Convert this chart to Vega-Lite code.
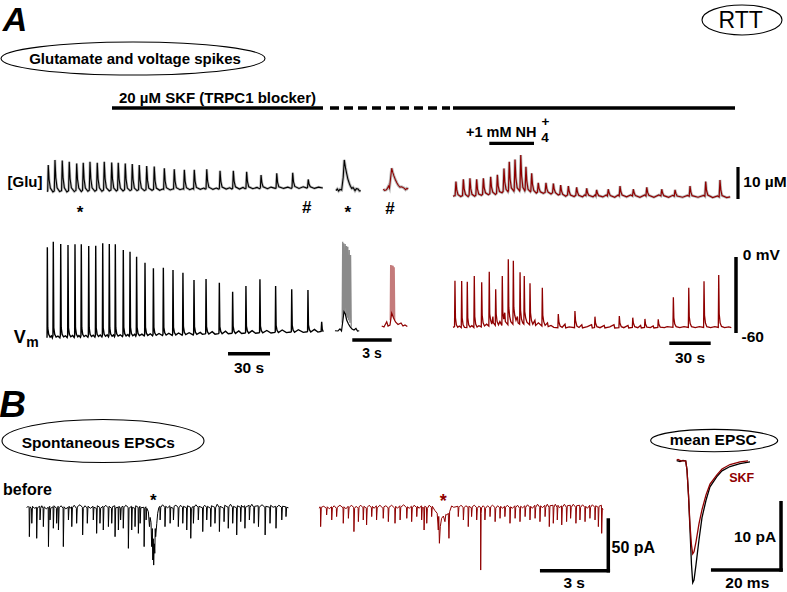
{
"$schema": "https://vega.github.io/schema/vega-lite/v6.json",
"width": 787, "height": 592, "autosize": {"type": "none"}, "padding": 0,
"background": "white",
"config": {"view": {"stroke": null}, "text": {"baseline": "alphabetic", "align": "center", "fontWeight": "bold", "font": "Liberation Sans"}},
"resolve": {"scale": {"x": "independent", "y": "independent"}},
"datasets": {
"gluBlack": [{"t":0,"y":-0.5},{"t":0.5,"y":-0.3},{"t":0.9,"y":7.8},{"t":1.5,"y":3.2},{"t":2.4,"y":0.6},{"t":4.2,"y":-0.6},
{"t":5.2,"y":-0.3},{"t":5.7,"y":9.4},{"t":6.3,"y":3.8},{"t":7.2,"y":0.7},{"t":9,"y":-0.5},
{"t":10.4,"y":-0.2},{"t":10.9,"y":9.2},{"t":11.5,"y":3.7},{"t":12.4,"y":0.7},{"t":14.2,"y":-0.6},
{"t":15.4,"y":-0.2},{"t":15.9,"y":8.8},{"t":16.5,"y":3.5},{"t":17.4,"y":0.7},{"t":19.5,"y":-0.5},
{"t":20.7,"y":-0.1},{"t":21.2,"y":8.3},{"t":21.8,"y":3.3},{"t":22.7,"y":0.6},{"t":24.5,"y":-0.5},
{"t":25.4,"y":-0.1},{"t":25.9,"y":8.5},{"t":26.5,"y":3.4},{"t":27.4,"y":0.6},{"t":29.2,"y":-0.4},
{"t":30.2,"y":-0.1},{"t":30.7,"y":8.8},{"t":31.3,"y":3.5},{"t":32.2,"y":0.7},{"t":34.2,"y":-0.4},
{"t":35.4,"y":0},{"t":35.9,"y":8.5},{"t":36.5,"y":3.4},{"t":37.4,"y":0.7},{"t":39.2,"y":-0.4},
{"t":40.4,"y":0},{"t":40.9,"y":8.8},{"t":41.5,"y":3.5},{"t":42.4,"y":0.7},{"t":44.5,"y":-0.3},
{"t":45.7,"y":0},{"t":46.2,"y":8.6},{"t":46.8,"y":3.4},{"t":47.7,"y":0.6},{"t":49.5,"y":-0.3},
{"t":50.4,"y":0},{"t":50.9,"y":8.5},{"t":51.5,"y":3.4},{"t":52.4,"y":0.6},{"t":54.3,"y":-0.3},
{"t":55.4,"y":0.1},{"t":55.9,"y":8.3},{"t":56.5,"y":3.3},{"t":57.4,"y":0.6},{"t":59.3,"y":-0.2},
{"t":60.4,"y":0.1},{"t":60.9,"y":8.1},{"t":61.5,"y":3.2},{"t":62.4,"y":0.6},{"t":64.3,"y":-0.2},
{"t":65.4,"y":0.1},{"t":65.9,"y":7.8},{"t":66.5,"y":3.1},{"t":67.4,"y":0.6},{"t":69.5,"y":-0.2},
{"t":70.7,"y":0.1},{"t":71.2,"y":7.5},{"t":71.8,"y":3},{"t":72.7,"y":0.6},{"t":75,"y":-0.1},
{"t":76.1,"y":0.2},{"t":76.6,"y":7.3},{"t":77.2,"y":2.9},{"t":78.1,"y":0.6},{"t":80.5,"y":-0.1},{"t":82.5,"y":0.3},
{"t":83.3,"y":0.2},{"t":83.8,"y":6.8},{"t":84.4,"y":2.8},{"t":85.3,"y":0.7},{"t":88,"y":0},{"t":89.8,"y":0.3},
{"t":90.4,"y":0.3},{"t":90.9,"y":6.5},{"t":91.5,"y":2.7},{"t":92.4,"y":0.7},{"t":95,"y":0.1},{"t":97,"y":0.4},
{"t":97.6,"y":0.3},{"t":98.1,"y":6.3},{"t":98.7,"y":2.6},{"t":99.6,"y":0.7},{"t":102,"y":0.1},{"t":104,"y":0.5},
{"t":104.7,"y":0.3},{"t":105.2,"y":6.3},{"t":105.8,"y":2.7},{"t":106.7,"y":0.8},{"t":109.5,"y":0.2},{"t":112,"y":0.6},{"t":113,"y":0.3},
{"t":113.6,"y":0.4},{"t":114.1,"y":6.5},{"t":114.7,"y":2.8},{"t":115.6,"y":0.9},{"t":118.5,"y":0.2},{"t":121,"y":0.6},{"t":122.5,"y":0.3},
{"t":123.1,"y":0.4},{"t":123.6,"y":6},{"t":124.2,"y":2.6},{"t":125.1,"y":0.9},{"t":128,"y":0.3},{"t":130.5,"y":0.7},{"t":132,"y":0.3},
{"t":132.6,"y":0.5},{"t":133.1,"y":6},{"t":133.7,"y":2.7},{"t":134.6,"y":1},{"t":137.5,"y":0.3},{"t":140,"y":0.8},{"t":141.5,"y":0.4},
{"t":142.1,"y":0.5},{"t":142.6,"y":5.7},{"t":143.2,"y":2.6},{"t":144.1,"y":1},{"t":147,"y":0.4},{"t":150,"y":0.8},{"t":151.8,"y":0.4},
{"t":152.4,"y":0.6},{"t":152.9,"y":4.7},{"t":153.5,"y":2.2},{"t":154.4,"y":1},{"t":157.5,"y":0.4},{"t":160,"y":0.9},{"t":163,"y":0.5},
{"t":163.6,"y":0.6},{"t":164.1,"y":5.2},{"t":164.7,"y":2.4},{"t":165.6,"y":1},{"t":169,"y":0.5},{"t":172,"y":0.9},{"t":174.5,"y":0.5},
{"t":175,"y":0.7},{"t":175.5,"y":5.4},{"t":176.1,"y":2.5},{"t":177,"y":1.1},{"t":180,"y":0.5},{"t":183,"y":1},{"t":185.6,"y":0.6},
{"t":186.1,"y":0.8},{"t":186.6,"y":3.3},{"t":187.2,"y":1.8},{"t":188.1,"y":1},{"t":191,"y":0.5},{"t":194,"y":0.9},{"t":197,"y":0.6}],
"vmBlack": [{"t":0,"y":-63.7},{"t":0.05,"y":-62},{"t":0.24,"y":7.7},{"t":0.55,"y":-56},{"t":1.2,"y":-61},{"t":2.2,"y":-63.2},{"t":3.2,"y":-62.3},{"t":3.8,"y":-63.8},
{"t":4.25,"y":-62},{"t":4.5,"y":12.1},{"t":4.85,"y":-56},{"t":5.5,"y":-61},{"t":6.5,"y":-63.2},{"t":7.8,"y":-62.4},{"t":9.2,"y":-63.8},
{"t":9.55,"y":-62},{"t":9.8,"y":10.3},{"t":10.15,"y":-56},{"t":10.8,"y":-61},{"t":11.8,"y":-63},{"t":13.2,"y":-62.2},{"t":14.4,"y":-63.6},
{"t":14.75,"y":-62},{"t":15,"y":9.5},{"t":15.35,"y":-56},{"t":16,"y":-61},{"t":17,"y":-63},{"t":18.3,"y":-62},{"t":19.4,"y":-63.5},
{"t":19.75,"y":-62},{"t":20,"y":10},{"t":20.35,"y":-56},{"t":21,"y":-61},{"t":22,"y":-63},{"t":22.8,"y":-62},{"t":23.9,"y":-63.4},
{"t":24.25,"y":-62},{"t":24.5,"y":10},{"t":24.85,"y":-56},{"t":25.5,"y":-61},{"t":26.5,"y":-62.8},{"t":27.8,"y":-61.8},{"t":29.2,"y":-63.3},
{"t":29.55,"y":-62},{"t":29.8,"y":8.7},{"t":30.15,"y":-56},{"t":30.8,"y":-61},{"t":31.8,"y":-62.8},{"t":33,"y":-61.8},{"t":34.2,"y":-63.2},
{"t":34.55,"y":-62},{"t":34.8,"y":8.9},{"t":35.15,"y":-56},{"t":35.8,"y":-61},{"t":36.8,"y":-62.7},{"t":38,"y":-61.6},{"t":39.2,"y":-63.1},
{"t":39.55,"y":-62},{"t":39.8,"y":10.8},{"t":40.15,"y":-56},{"t":40.8,"y":-60.8},{"t":41.8,"y":-62.6},{"t":43,"y":-61.5},{"t":43.9,"y":-63},
{"t":44.25,"y":-61.8},{"t":44.5,"y":10.3},{"t":44.85,"y":-56},{"t":45.5,"y":-60.8},{"t":46.5,"y":-62.5},{"t":47.5,"y":-61.5},{"t":48.2,"y":-62.9},
{"t":48.55,"y":-61.8},{"t":48.8,"y":10},{"t":49.15,"y":-56},{"t":49.8,"y":-60.6},{"t":50.8,"y":-62.4},{"t":52.3,"y":-61.4},{"t":53.9,"y":-62.8},
{"t":54.25,"y":-61.6},{"t":54.5,"y":5.5},{"t":54.85,"y":-55.5},{"t":55.5,"y":-60.5},{"t":56.5,"y":-62.3},{"t":57.8,"y":-61.2},{"t":58.7,"y":-62.6},
{"t":59.05,"y":-61.5},{"t":59.3,"y":4.2},{"t":59.65,"y":-55.5},{"t":60.3,"y":-60.4},{"t":61.3,"y":-62.2},{"t":62.6,"y":-61},{"t":63.4,"y":-62.5},
{"t":63.75,"y":-61.4},{"t":64,"y":0.2},{"t":64.35,"y":-55.5},{"t":65,"y":-60.3},{"t":66,"y":-62.1},{"t":67.8,"y":-60.9},{"t":69.4,"y":-62.3},
{"t":69.75,"y":-61.2},{"t":70,"y":-4.5},{"t":70.35,"y":-55.5},{"t":71,"y":-60.1},{"t":72,"y":-61.9},{"t":73.8,"y":-60.6},{"t":75.4,"y":-62.2},
{"t":75.75,"y":-61.1},{"t":76,"y":-8.9},{"t":76.35,"y":-55.5},{"t":77,"y":-60},{"t":78,"y":-61.8},{"t":80,"y":-60.4},{"t":82.5,"y":-62},
{"t":82.85,"y":-60.9},{"t":83.1,"y":-8.4},{"t":83.45,"y":-55.5},{"t":84.1,"y":-59.8},{"t":85.1,"y":-61.6},{"t":87,"y":-60.2},{"t":89.4,"y":-61.9},
{"t":89.75,"y":-60.8},{"t":90,"y":-10.3},{"t":90.35,"y":-55.5},{"t":91,"y":-59.7},{"t":92,"y":-61.5},{"t":94,"y":-60},{"t":96.5,"y":-61.7},
{"t":96.85,"y":-60.6},{"t":97.1,"y":-12.4},{"t":97.45,"y":-55},{"t":98.1,"y":-59.5},{"t":99.1,"y":-61.3},{"t":101.5,"y":-59.8},{"t":104.4,"y":-61.5},
{"t":104.75,"y":-60.4},{"t":105,"y":-18.2},{"t":105.35,"y":-55},{"t":106,"y":-59.3},{"t":107,"y":-61},{"t":109.5,"y":-59.5},{"t":111,"y":-61},{"t":113,"y":-60.7},
{"t":113.35,"y":-60.2},{"t":113.6,"y":-17.4},{"t":113.95,"y":-55},{"t":114.6,"y":-59},{"t":115.6,"y":-60.8},{"t":118,"y":-59},{"t":120,"y":-60.9},{"t":122.5,"y":-60.5},
{"t":122.85,"y":-60},{"t":123.1,"y":-20.3},{"t":123.45,"y":-55},{"t":124.1,"y":-58.8},{"t":125.1,"y":-60.6},{"t":127.5,"y":-58.6},{"t":129.5,"y":-60.6},{"t":132,"y":-60.2},
{"t":132.35,"y":-59.7},{"t":132.6,"y":-27.4},{"t":132.95,"y":-54.5},{"t":133.6,"y":-58.6},{"t":134.6,"y":-60.3},{"t":137,"y":-58.4},{"t":139,"y":-60.4},{"t":141.5,"y":-60},
{"t":141.85,"y":-59.5},{"t":142.1,"y":-22.9},{"t":142.45,"y":-54.5},{"t":143.1,"y":-58.4},{"t":144.1,"y":-60.1},{"t":146.5,"y":-58.2},{"t":149,"y":-60.2},{"t":151.5,"y":-59.8},
{"t":151.85,"y":-59.3},{"t":152.1,"y":-17.6},{"t":152.45,"y":-54.5},{"t":153.1,"y":-58.2},{"t":154.1,"y":-59.9},{"t":157,"y":-58},{"t":160,"y":-60},{"t":162.7,"y":-59.5},
{"t":163.05,"y":-59},{"t":163.3,"y":-22.9},{"t":163.65,"y":-54},{"t":164.3,"y":-57.9},{"t":165.3,"y":-59.6},{"t":168,"y":-57.6},{"t":171,"y":-59.7},{"t":174.2,"y":-59.2},
{"t":174.55,"y":-58.8},{"t":174.8,"y":-25.5},{"t":175.15,"y":-54},{"t":175.8,"y":-57.7},{"t":176.8,"y":-59.4},{"t":179.5,"y":-57.4},{"t":183,"y":-59.5},{"t":185.8,"y":-59},
{"t":186.15,"y":-58.5},{"t":186.4,"y":-26.1},{"t":186.75,"y":-53.5},{"t":187.4,"y":-57.4},{"t":188.4,"y":-59.2},{"t":191,"y":-57.2},{"t":193.5,"y":-59.3},{"t":195.8,"y":-58.8},
{"t":196.2,"y":-51.1},{"t":196.6,"y":-57},{"t":197.3,"y":-59}],
"gluRed": [{"t":0,"y":-0.4},{"t":1.5,"y":-0.2},{"t":2.1,"y":4.2},{"t":2.7,"y":1.5},{"t":3.6,"y":0.1},{"t":5.5,"y":-0.5},
{"t":6.8,"y":-0.2},{"t":7.4,"y":4.9},{"t":8,"y":1.8},{"t":8.9,"y":0.2},{"t":10.8,"y":-0.5},
{"t":11.5,"y":-0.1},{"t":12.1,"y":5.2},{"t":12.7,"y":1.9},{"t":13.6,"y":0.2},{"t":15.5,"y":-0.4},
{"t":16.3,"y":-0.1},{"t":16.9,"y":4.9},{"t":17.5,"y":1.8},{"t":18.4,"y":0.3},{"t":20.3,"y":-0.1},
{"t":21.1,"y":0.2},{"t":21.7,"y":5.2},{"t":22.3,"y":2.2},{"t":23.2,"y":0.7},{"t":25.3,"y":0.1},
{"t":26.3,"y":0.4},{"t":26.9,"y":5.7},{"t":27.5,"y":2.5},{"t":28.4,"y":0.9},{"t":30.3,"y":0.2},
{"t":31.1,"y":0.5},{"t":31.7,"y":6.3},{"t":32.3,"y":2.8},{"t":33.2,"y":1.1},{"t":35,"y":0.7},
{"t":35.8,"y":1.1},{"t":36.4,"y":8.3},{"t":37,"y":4},{"t":37.9,"y":1.8},{"t":39.3,"y":1},
{"t":39.6,"y":1.4},{"t":40.2,"y":10.4},{"t":40.8,"y":5},{"t":41.7,"y":2.2},{"t":43.5,"y":1.2},
{"t":43.7,"y":1.5},{"t":44.3,"y":11.1},{"t":44.9,"y":5.4},{"t":45.8,"y":2.3},{"t":47.6,"y":1.3},
{"t":47.8,"y":1.6},{"t":48.4,"y":12.5},{"t":49,"y":6},{"t":49.9,"y":2.4},{"t":51.3,"y":1.3},
{"t":51.5,"y":1.5},{"t":52.1,"y":8.8},{"t":52.7,"y":4.4},{"t":53.6,"y":1.8},{"t":55.3,"y":1},
{"t":55.6,"y":1.2},{"t":56.2,"y":6.8},{"t":56.8,"y":3.3},{"t":57.7,"y":1.4},{"t":59.5,"y":0.6},
{"t":60.3,"y":0.9},{"t":60.9,"y":3.8},{"t":61.5,"y":2},{"t":62.4,"y":1},{"t":64.5,"y":0.5},
{"t":65.8,"y":0.8},{"t":66.4,"y":3.8},{"t":67,"y":2},{"t":67.9,"y":0.9},{"t":70,"y":0.3},
{"t":71.1,"y":0.7},{"t":71.7,"y":3.6},{"t":72.3,"y":1.8},{"t":73.2,"y":0.7},{"t":75.2,"y":0},
{"t":76.3,"y":0.2},{"t":76.9,"y":3.1},{"t":77.5,"y":1.3},{"t":78.4,"y":0.2},{"t":80.5,"y":-0.4},
{"t":81.8,"y":0},{"t":82.4,"y":2.8},{"t":83,"y":1.1},{"t":83.9,"y":0},{"t":86.5,"y":-0.5},
{"t":87.7,"y":-0.1},{"t":88.3,"y":2.4},{"t":88.9,"y":0.9},{"t":89.8,"y":-0.1},{"t":92.5,"y":-0.6},{"t":94,"y":0},
{"t":94.9,"y":-0.2},{"t":95.5,"y":2.1},{"t":96.1,"y":0.7},{"t":97,"y":-0.1},{"t":100,"y":-0.6},{"t":101.5,"y":0},
{"t":102,"y":-0.3},{"t":102.6,"y":1.6},{"t":103.2,"y":0.5},{"t":104.1,"y":-0.2},{"t":107,"y":-0.6},{"t":109.5,"y":0},
{"t":110.3,"y":-0.3},{"t":110.9,"y":1.8},{"t":111.5,"y":0.6},{"t":112.4,"y":-0.2},{"t":115.5,"y":-0.7},{"t":118,"y":0},
{"t":118.7,"y":-0.3},{"t":119.3,"y":2.8},{"t":119.9,"y":1},{"t":120.8,"y":0},{"t":124,"y":-0.6},{"t":127,"y":0},
{"t":128.2,"y":-0.3},{"t":128.8,"y":1.8},{"t":129.4,"y":0.6},{"t":130.3,"y":-0.2},{"t":133.5,"y":-0.7},{"t":137,"y":0},
{"t":137.8,"y":-0.3},{"t":138.4,"y":2.4},{"t":139,"y":0.8},{"t":139.9,"y":-0.1},{"t":143.5,"y":-0.7},{"t":147,"y":0},
{"t":148.5,"y":-0.3},{"t":149.1,"y":1.8},{"t":149.7,"y":0.6},{"t":150.6,"y":-0.2},{"t":154,"y":-0.7},{"t":157,"y":-0.1},
{"t":158,"y":-0.4},{"t":158.6,"y":1.6},{"t":159.2,"y":0.5},{"t":160.1,"y":-0.3},{"t":164,"y":-0.7},{"t":167.5,"y":-0.1},
{"t":168.7,"y":-0.4},{"t":169.3,"y":2.8},{"t":169.9,"y":0.9},{"t":170.8,"y":-0.2},{"t":175,"y":-0.7},{"t":179,"y":-0.1},
{"t":179.9,"y":-0.4},{"t":180.5,"y":4.2},{"t":181.1,"y":1.4},{"t":182,"y":0},{"t":185.5,"y":-0.8},{"t":189,"y":-0.3},
{"t":190.1,"y":-0.6},{"t":190.7,"y":4.7},{"t":191.3,"y":1.5},{"t":192.2,"y":-0.2},{"t":195.5,"y":-0.8},{"t":198,"y":-0.6}],
"vmRed": [{"t":0,"y":-55.5},{"t":1.1,"y":-55},{"t":1.4,"y":-18.7},{"t":1.75,"y":-48},{"t":2.4,"y":-53.5},{"t":3.4,"y":-55.5},{"t":4.5,"y":-54.5},{"t":5.9,"y":-55.8},
{"t":6.2,"y":-19},{"t":6.55,"y":-48},{"t":7.2,"y":-53.5},{"t":8.2,"y":-55.5},{"t":9.9,"y":-55.7},
{"t":10.2,"y":-19.5},{"t":10.55,"y":-48},{"t":11.2,"y":-53.5},{"t":12.2,"y":-55.3},{"t":13.5,"y":-54.2},{"t":14.9,"y":-55.6},
{"t":15.2,"y":-15},{"t":15.55,"y":-47},{"t":16.2,"y":-53},{"t":17.2,"y":-55.3},{"t":18.5,"y":-54.3},{"t":20.2,"y":-55.2},
{"t":20.5,"y":-20},{"t":20.85,"y":-46},{"t":21.5,"y":-52},{"t":22.5,"y":-54.5},{"t":24,"y":-53},{"t":25.6,"y":-54.5},
{"t":25.9,"y":-11.6},{"t":26.25,"y":-45},{"t":26.9,"y":-50},{"t":27.7,"y":-53},{"t":28.5,"y":-47},{"t":28.8,"y":-52},{"t":30.2,"y":-54},
{"t":30.5,"y":-25.5},{"t":30.85,"y":-45},{"t":31.5,"y":-51},{"t":32.5,"y":-53.5},{"t":33.5,"y":-51},{"t":34.9,"y":-54},
{"t":35.2,"y":-15},{"t":35.55,"y":-43},{"t":36.2,"y":-49},{"t":37,"y":-44},{"t":37.4,"y":-51},{"t":39.2,"y":-53.5},
{"t":39.5,"y":-1.8},{"t":39.85,"y":-40},{"t":40.5,"y":-47},{"t":41.3,"y":-51},{"t":42.8,"y":-53},
{"t":43.1,"y":-2.9},{"t":43.45,"y":-40},{"t":44.1,"y":-46},{"t":45,"y":-50},{"t":46,"y":-47},{"t":46.5,"y":-52},{"t":47.6,"y":-53},
{"t":47.9,"y":-12.1},{"t":48.25,"y":-42},{"t":48.9,"y":-49},{"t":49.8,"y":-52},{"t":50.6,"y":-53},
{"t":50.9,"y":-15},{"t":51.25,"y":-43},{"t":51.9,"y":-48},{"t":52.8,"y":-51.5},{"t":54.7,"y":-53.5},
{"t":55,"y":-20.8},{"t":55.35,"y":-44},{"t":56,"y":-50},{"t":57,"y":-53},{"t":58.5,"y":-50},{"t":59,"y":-54},{"t":61,"y":-52},{"t":63.5,"y":-54.5},
{"t":63.8,"y":-24.2},{"t":64.15,"y":-46},{"t":64.8,"y":-51},{"t":65.8,"y":-54},{"t":67.5,"y":-52},{"t":68,"y":-55},{"t":70,"y":-54},{"t":72,"y":-55.5},{"t":74.9,"y":-55.8},
{"t":75.2,"y":-45},{"t":75.6,"y":-51},{"t":76.5,"y":-54.5},{"t":78,"y":-55.5},{"t":80,"y":-53},{"t":80.5,"y":-56},{"t":83,"y":-55.2},{"t":86.8,"y":-55.8},
{"t":87.1,"y":-42.6},{"t":87.5,"y":-50},{"t":88.5,"y":-54.5},{"t":90,"y":-55.6},{"t":92,"y":-53.5},{"t":92.5,"y":-56},{"t":96,"y":-55},{"t":99,"y":-53.5},{"t":99.5,"y":-56},{"t":101.1,"y":-55.7},
{"t":101.4,"y":-47.1},{"t":101.8,"y":-52},{"t":102.8,"y":-55},{"t":105,"y":-55.8},{"t":108,"y":-54},{"t":108.5,"y":-56},{"t":112,"y":-55.2},{"t":115,"y":-53.5},{"t":115.5,"y":-56},{"t":118.5,"y":-55.7},
{"t":118.8,"y":-46.6},{"t":119.2,"y":-52},{"t":120.2,"y":-55},{"t":122,"y":-55.8},{"t":125,"y":-54},{"t":125.5,"y":-56},{"t":128.1,"y":-55.6},
{"t":128.4,"y":-47.9},{"t":128.8,"y":-52},{"t":129.8,"y":-55},{"t":132,"y":-55.8},{"t":134,"y":-54},{"t":134.5,"y":-56},{"t":136.8,"y":-55.6},
{"t":137.1,"y":-48.9},{"t":137.5,"y":-53},{"t":138.5,"y":-55.3},{"t":141,"y":-55.8},{"t":143,"y":-54.5},{"t":143.5,"y":-56},{"t":146.3,"y":-55.6},
{"t":146.6,"y":-49.2},{"t":147,"y":-53},{"t":148,"y":-55.3},{"t":151,"y":-55.8},{"t":153,"y":-55},{"t":157.1,"y":-55.5},
{"t":157.4,"y":-31.8},{"t":157.75,"y":-48},{"t":158.4,"y":-53},{"t":159.4,"y":-55},{"t":162,"y":-55.8},{"t":165,"y":-55},{"t":168.1,"y":-55.6},
{"t":168.4,"y":-24.2},{"t":168.75,"y":-47},{"t":169.4,"y":-52.5},{"t":170.4,"y":-55},{"t":173,"y":-55.8},{"t":176,"y":-55},{"t":179,"y":-55.6},
{"t":179.3,"y":-19.2},{"t":179.65,"y":-46},{"t":180.3,"y":-52},{"t":181.3,"y":-55},{"t":184,"y":-55.8},{"t":187,"y":-55},{"t":189.5,"y":-55.6},
{"t":189.8,"y":-14.2},{"t":190.15,"y":-45},{"t":190.8,"y":-52},{"t":191.8,"y":-54.8},{"t":194,"y":-55.8},{"t":197,"y":-55.2},{"t":198.8,"y":-55.8}],
"gluInsetBlack": [{"t":0,"y":-0.2},{"t":0.1,"y":0.3},{"t":0.2,"y":-0.3},{"t":0.3,"y":0.2},{"t":0.43,"y":0},{"t":0.55,"y":4},{"t":0.63,"y":9.4},{"t":0.72,"y":7},{"t":0.81,"y":5.2},{"t":0.9,"y":3.5},{"t":1.01,"y":2.1},{"t":1.1,"y":1.2},{"t":1.2,"y":0.5},{"t":1.3,"y":0.8},{"t":1.45,"y":-0.2},{"t":1.55,"y":0.4},{"t":1.68,"y":0.3},{"t":1.78,"y":-0.3},{"t":1.88,"y":-0.2}],
"gluInsetRed": [{"t":0,"y":0.3},{"t":0.1,"y":-0.1},{"t":0.21,"y":0},{"t":0.3,"y":0.4},{"t":0.4,"y":1.25},{"t":0.47,"y":0.6},{"t":0.55,"y":3.5},{"t":0.64,"y":6.8},{"t":0.72,"y":5.5},{"t":0.81,"y":4.4},{"t":0.92,"y":3.2},{"t":1.04,"y":2.2},{"t":1.15,"y":1.4},{"t":1.27,"y":0.9},{"t":1.4,"y":1},{"t":1.58,"y":0.6},{"t":1.7,"y":0.1},{"t":1.8,"y":0.5},{"t":1.9,"y":0.3}],
"vmInsetBlack": [{"t":-0.08,"y":-58.2},{"t":0.15,"y":-58.4},{"t":0.3,"y":-56.8},{"t":0.42,"y":-58.4},{"t":0.53,"y":-49.7},{"t":0.61,"y":-43.2},{"t":0.71,"y":-45},{"t":0.81,"y":-49.7},{"t":0.95,"y":-52.9},{"t":1.07,"y":-55},{"t":1.22,"y":-56.8},{"t":1.37,"y":-57.6},{"t":1.52,"y":-56.4},{"t":1.64,"y":-58.4},{"t":1.77,"y":-58.2}],
"vmBurstBlack": [{"t":0.47,"y":-52},{"t":0.51,"y":12.1},{"t":0.55,"y":-46},{"t":0.59,"y":10.8},{"t":0.64,"y":-44},{"t":0.7,"y":10.3},{"t":0.75,"y":-46},{"t":0.8,"y":8.7},{"t":0.85,"y":-48},{"t":0.9,"y":8.1},{"t":0.94,"y":-50},{"t":1.01,"y":5.5},{"t":1.05,"y":-52},{"t":1.11,"y":1.6},{"t":1.16,"y":-55}],
"vmInsetRed": [{"t":-0.12,"y":-54.5},{"t":0.05,"y":-55.3},{"t":0.26,"y":-51.1},{"t":0.36,"y":-54.5},{"t":0.51,"y":-53.7},{"t":0.64,"y":-44.4},{"t":0.78,"y":-48.2},{"t":0.93,"y":-51.3},{"t":1.12,"y":-53.3},{"t":1.35,"y":-52.1},{"t":1.5,"y":-54.5},{"t":1.65,"y":-53.7},{"t":1.83,"y":-54.9}],
"vmBurstRed": [{"t":0.53,"y":-50},{"t":0.56,"y":-6.3},{"t":0.61,"y":-46},{"t":0.65,"y":-6.5},{"t":0.7,"y":-46},{"t":0.75,"y":-7},{"t":0.79,"y":-48},{"t":0.83,"y":-8},{"t":0.87,"y":-50}],
"epscBlack": [{"t":0,"y":0.5},{"t":0.06,"y":2},{"t":0.108,"y":0.5},{"t":0.12,"y":-28},{"t":0.15,"y":1.5},{"t":0.218,"y":-0.5},{"t":0.23,"y":-14.8},{"t":0.26,"y":2},{"t":0.35,"y":0},
{"t":0.438,"y":1},{"t":0.45,"y":-29.6},{"t":0.48,"y":0.5},{"t":0.588,"y":2},{"t":0.6,"y":-11.5},{"t":0.63,"y":0},{"t":0.68,"y":2.5},
{"t":0.738,"y":0},{"t":0.75,"y":-18.1},{"t":0.78,"y":1.5},{"t":0.88,"y":-0.5},{"t":0.968,"y":1},{"t":0.98,"y":-37.8},{"t":1.01,"y":0.5},
{"t":1.038,"y":2},{"t":1.05,"y":-11.5},{"t":1.08,"y":0},{"t":1.188,"y":1.5},{"t":1.2,"y":-19.7},{"t":1.23,"y":2.5},{"t":1.338,"y":0},{"t":1.35,"y":-14.8},{"t":1.38,"y":1},
{"t":1.418,"y":2},{"t":1.43,"y":-21.4},{"t":1.46,"y":0.5},{"t":1.55,"y":2.5},{"t":1.638,"y":0},{"t":1.65,"y":-37.8},{"t":1.68,"y":1.5},{"t":1.76,"y":-0.5},
{"t":1.868,"y":1},{"t":1.88,"y":-11.5},{"t":1.91,"y":2},{"t":1.96,"y":0},{"t":2.018,"y":1.5},{"t":2.03,"y":-18.1},{"t":2.06,"y":0.5},{"t":2.14,"y":3},
{"t":2.238,"y":0},{"t":2.25,"y":-14.8},{"t":2.28,"y":1.5},{"t":2.4,"y":3.5},{"t":2.508,"y":1},{"t":2.52,"y":-26.3},{"t":2.55,"y":0},{"t":2.62,"y":2.5},
{"t":2.718,"y":0.5},{"t":2.73,"y":-14.8},{"t":2.76,"y":2},{"t":2.87,"y":0},{"t":2.988,"y":2},{"t":3,"y":-11.5},{"t":3.03,"y":1},
{"t":3.138,"y":0},{"t":3.15,"y":-24.7},{"t":3.18,"y":2.5},{"t":3.288,"y":1},{"t":3.3,"y":-14.8},{"t":3.33,"y":0},{"t":3.438,"y":2},{"t":3.45,"y":-21.4},{"t":3.48,"y":1},{"t":3.56,"y":3},
{"t":3.668,"y":0.5},{"t":3.68,"y":-18.1},{"t":3.71,"y":2},{"t":3.818,"y":0},{"t":3.83,"y":-14.8},{"t":3.86,"y":1.5},{"t":3.968,"y":2.5},{"t":3.98,"y":-28},{"t":4.01,"y":0.5},
{"t":4.118,"y":1},{"t":4.13,"y":-21.4},{"t":4.16,"y":2},{"t":4.218,"y":0},{"t":4.23,"y":-11.5},{"t":4.26,"y":1},{"t":4.338,"y":2},{"t":4.35,"y":-19.7},{"t":4.38,"y":0.5},{"t":4.46,"y":3},
{"t":4.568,"y":1},{"t":4.58,"y":-39.5},{"t":4.61,"y":0},{"t":4.718,"y":2},{"t":4.73,"y":-21.4},{"t":4.76,"y":1},{"t":4.868,"y":0},{"t":4.88,"y":-18.1},{"t":4.91,"y":2.5},
{"t":5.018,"y":1},{"t":5.03,"y":-24.7},{"t":5.06,"y":0},{"t":5.098,"y":2},{"t":5.11,"y":-14.8},{"t":5.14,"y":0.5},{"t":5.278,"y":1},{"t":5.29,"y":-37.8},{"t":5.32,"y":0},
{"t":5.368,"y":1.5},{"t":5.38,"y":-11.5},{"t":5.41,"y":0},{"t":5.48,"y":-3.3},{"t":5.53,"y":-18.1},{"t":5.56,"y":-9},{"t":5.6,"y":-14},{"t":5.63,"y":-37.8},{"t":5.66,"y":-20},{"t":5.68,"y":-51},{"t":5.7,"y":-30},{"t":5.72,"y":-56},{"t":5.745,"y":-35},{"t":5.77,"y":-44.4},{"t":5.79,"y":-20},{"t":5.81,"y":-28},{"t":5.86,"y":-14.8},{"t":5.9,"y":-4.9},{"t":5.95,"y":0.5},
{"t":5.998,"y":2},{"t":6.01,"y":-11.5},{"t":6.04,"y":1},{"t":6.12,"y":3.5},{"t":6.218,"y":1},{"t":6.23,"y":-18.1},{"t":6.26,"y":2},{"t":6.35,"y":0.5},
{"t":6.448,"y":2.5},{"t":6.46,"y":-14.8},{"t":6.49,"y":1},{"t":6.598,"y":0},{"t":6.61,"y":-11.5},{"t":6.64,"y":2},{"t":6.72,"y":3},
{"t":6.818,"y":1},{"t":6.83,"y":-18.1},{"t":6.86,"y":0.5},{"t":6.93,"y":3},{"t":7.018,"y":1},{"t":7.03,"y":-14.8},{"t":7.06,"y":2},
{"t":7.198,"y":0.5},{"t":7.21,"y":-21.4},{"t":7.24,"y":2.5},{"t":7.378,"y":1},{"t":7.39,"y":-29.6},{"t":7.42,"y":0},{"t":7.498,"y":2},{"t":7.51,"y":-14.8},{"t":7.54,"y":1},{"t":7.62,"y":3.5},
{"t":7.718,"y":1},{"t":7.73,"y":-11.5},{"t":7.76,"y":2},{"t":7.918,"y":0.5},{"t":7.93,"y":-23},{"t":7.96,"y":1.5},{"t":8.02,"y":3},
{"t":8.098,"y":1},{"t":8.11,"y":-11.5},{"t":8.14,"y":2},{"t":8.278,"y":0},{"t":8.29,"y":-18.1},{"t":8.32,"y":2.5},{"t":8.468,"y":1},{"t":8.48,"y":-14.8},{"t":8.51,"y":0.5},{"t":8.58,"y":4},
{"t":8.668,"y":1},{"t":8.68,"y":-23},{"t":8.71,"y":2},{"t":8.878,"y":0},{"t":8.89,"y":-13.2},{"t":8.92,"y":3},{"t":9.068,"y":1},{"t":9.08,"y":-19.7},{"t":9.11,"y":1.5},{"t":9.18,"y":4},
{"t":9.268,"y":1},{"t":9.28,"y":-14.8},{"t":9.31,"y":2},{"t":9.448,"y":0.5},{"t":9.46,"y":-26.3},{"t":9.49,"y":2.5},{"t":9.628,"y":1},{"t":9.64,"y":-13.2},{"t":9.67,"y":3},{"t":9.74,"y":1},
{"t":9.818,"y":2.5},{"t":9.83,"y":-19.7},{"t":9.86,"y":1},{"t":10.018,"y":3},{"t":10.03,"y":-11.5},{"t":10.06,"y":1},{"t":10.14,"y":4},
{"t":10.228,"y":1},{"t":10.24,"y":-14.8},{"t":10.27,"y":2},{"t":10.428,"y":2.5},{"t":10.44,"y":-18.1},{"t":10.47,"y":1},{"t":10.6,"y":3.5},
{"t":10.728,"y":1},{"t":10.74,"y":-26.3},{"t":10.77,"y":2},{"t":10.948,"y":1},{"t":10.96,"y":-14.8},{"t":10.99,"y":3},{"t":11.1,"y":1},
{"t":11.218,"y":2},{"t":11.23,"y":-19.7},{"t":11.26,"y":1},{"t":11.36,"y":3},{"t":11.478,"y":1},{"t":11.49,"y":-11.5},{"t":11.52,"y":2},
{"t":11.668,"y":1.5},{"t":11.68,"y":-8.2},{"t":11.71,"y":1},{"t":11.79,"y":0.5}],
"epscRed": [{"t":0,"y":0},{"t":0.03,"y":1.5},{"t":0.05,"y":0.5},{"t":0.06,"y":-18.1},{"t":0.09,"y":1},{"t":0.2,"y":2},
{"t":0.318,"y":0},{"t":0.33,"y":-6.6},{"t":0.36,"y":1.5},{"t":0.45,"y":-0.5},{"t":0.548,"y":1.5},{"t":0.56,"y":-11.5},{"t":0.59,"y":0.5},{"t":0.67,"y":2.5},
{"t":0.768,"y":0},{"t":0.78,"y":-8.2},{"t":0.81,"y":1},{"t":0.93,"y":3},{"t":1.068,"y":0.5},{"t":1.08,"y":-14.8},{"t":1.11,"y":1.5},{"t":1.2,"y":-0.5},
{"t":1.298,"y":2},{"t":1.31,"y":-9.9},{"t":1.34,"y":0.5},{"t":1.44,"y":3},{"t":1.548,"y":1},{"t":1.56,"y":-23},{"t":1.59,"y":0},{"t":1.66,"y":2},
{"t":1.748,"y":0},{"t":1.76,"y":-13.2},{"t":1.79,"y":1.5},{"t":1.87,"y":3},{"t":1.968,"y":0.5},{"t":1.98,"y":-11.5},{"t":2.01,"y":2},
{"t":2.118,"y":0},{"t":2.13,"y":-16.4},{"t":2.16,"y":1},{"t":2.25,"y":3},{"t":2.348,"y":0.5},{"t":2.36,"y":-8.2},{"t":2.39,"y":2},{"t":2.47,"y":0},
{"t":2.568,"y":2.5},{"t":2.58,"y":-11.5},{"t":2.61,"y":0.5},{"t":2.73,"y":3},{"t":2.868,"y":0},{"t":2.88,"y":-9.9},{"t":2.91,"y":1.5},{"t":3,"y":2.5},
{"t":3.098,"y":0.5},{"t":3.11,"y":-13.2},{"t":3.14,"y":1},{"t":3.26,"y":3},{"t":3.398,"y":0},{"t":3.41,"y":-14.8},{"t":3.44,"y":2},{"t":3.52,"y":0},
{"t":3.628,"y":2.5},{"t":3.64,"y":-11.5},{"t":3.67,"y":1},{"t":3.8,"y":3.5},{"t":3.928,"y":0.5},{"t":3.94,"y":-9.9},{"t":3.97,"y":1.5},{"t":4.05,"y":0},
{"t":4.148,"y":2},{"t":4.16,"y":-13.2},{"t":4.19,"y":0.5},{"t":4.27,"y":3},{"t":4.378,"y":1},{"t":4.39,"y":-8.2},{"t":4.42,"y":2},{"t":4.5,"y":0},
{"t":4.598,"y":2.5},{"t":4.61,"y":-11.5},{"t":4.64,"y":1},{"t":4.708,"y":0.5},{"t":4.72,"y":-21.4},{"t":4.75,"y":2},{"t":4.828,"y":1},{"t":4.84,"y":-14.8},{"t":4.87,"y":0},{"t":4.95,"y":3},
{"t":5.048,"y":1},{"t":5.06,"y":-8.2},{"t":5.09,"y":2},{"t":5.21,"y":-2.3},{"t":5.31,"y":-4.9},{"t":5.36,"y":-21.4},{"t":5.38,"y":-8},{"t":5.41,"y":-34.5},{"t":5.45,"y":-18.1},{"t":5.51,"y":-9.9},{"t":5.59,"y":-7.6},{"t":5.66,"y":-13.2},{"t":5.7,"y":-6},{"t":5.74,"y":-6.6},{"t":5.81,"y":-4.9},{"t":5.84,"y":-29.6},{"t":5.87,"y":-3.3},{"t":5.96,"y":2.3},{"t":6.05,"y":1},
{"t":6.248,"y":2},{"t":6.26,"y":-8.2},{"t":6.29,"y":1},{"t":6.38,"y":3},{"t":6.478,"y":1},{"t":6.49,"y":-11.5},{"t":6.52,"y":0.5},{"t":6.6,"y":2.5},
{"t":6.698,"y":1},{"t":6.71,"y":-18.1},{"t":6.74,"y":2},{"t":6.848,"y":0.5},{"t":6.86,"y":-8.2},{"t":6.89,"y":1.5},{"t":6.98,"y":3},
{"t":7.078,"y":1},{"t":7.09,"y":-11.5},{"t":7.12,"y":0},{"t":7.18,"y":2},{"t":7.262,"y":1},{"t":7.27,"y":-60.9},{"t":7.29,"y":-5},{"t":7.31,"y":0.5},{"t":7.38,"y":2.5},
{"t":7.448,"y":1},{"t":7.46,"y":-11.5},{"t":7.49,"y":0},{"t":7.58,"y":2.5},{"t":7.678,"y":0.5},{"t":7.69,"y":-8.2},{"t":7.72,"y":1.5},{"t":7.8,"y":3},
{"t":7.908,"y":1},{"t":7.92,"y":-13.2},{"t":7.95,"y":0},{"t":8.03,"y":2.5},{"t":8.128,"y":0.5},{"t":8.14,"y":-9.9},{"t":8.17,"y":2},{"t":8.25,"y":0},
{"t":8.348,"y":2},{"t":8.36,"y":-8.2},{"t":8.39,"y":1},{"t":8.47,"y":3},{"t":8.578,"y":0.5},{"t":8.59,"y":-14.8},{"t":8.62,"y":1.5},{"t":8.7,"y":0},
{"t":8.808,"y":2.5},{"t":8.82,"y":-9.9},{"t":8.85,"y":1},{"t":8.93,"y":3},{"t":9.028,"y":0},{"t":9.04,"y":-13.2},{"t":9.07,"y":2},{"t":9.16,"y":0.5},
{"t":9.258,"y":2.5},{"t":9.27,"y":-8.2},{"t":9.3,"y":1},{"t":9.38,"y":3.5},{"t":9.478,"y":1},{"t":9.49,"y":-11.5},{"t":9.52,"y":2},{"t":9.6,"y":0},
{"t":9.708,"y":3},{"t":9.72,"y":-9.9},{"t":9.75,"y":1},{"t":9.83,"y":4},{"t":9.928,"y":1},{"t":9.94,"y":-13.2},{"t":9.97,"y":2.5},{"t":10.05,"y":0.5},
{"t":10.158,"y":3},{"t":10.17,"y":-8.2},{"t":10.2,"y":1},{"t":10.27,"y":4},{"t":10.348,"y":1},{"t":10.36,"y":-18.1},{"t":10.39,"y":2.5},
{"t":10.528,"y":3},{"t":10.54,"y":-14.8},{"t":10.57,"y":1},{"t":10.63,"y":4},{"t":10.708,"y":1},{"t":10.72,"y":-11.5},{"t":10.75,"y":3},{"t":10.82,"y":0.5},
{"t":10.908,"y":2.5},{"t":10.92,"y":-16.4},{"t":10.95,"y":1},{"t":11.04,"y":4},{"t":11.128,"y":1},{"t":11.14,"y":-13.2},{"t":11.17,"y":2.5},
{"t":11.308,"y":3},{"t":11.32,"y":-9.9},{"t":11.35,"y":1},{"t":11.44,"y":4},{"t":11.548,"y":1},{"t":11.56,"y":-14.8},{"t":11.59,"y":2.5},
{"t":11.728,"y":3},{"t":11.74,"y":-11.5},{"t":11.77,"y":1},{"t":11.86,"y":3.5},{"t":11.958,"y":1},{"t":11.97,"y":-13.2},{"t":12,"y":2},{"t":12.08,"y":0},
{"t":12.178,"y":3},{"t":12.19,"y":-9.9},{"t":12.22,"y":1},{"t":12.3,"y":3.5},{"t":12.408,"y":1},{"t":12.42,"y":-11.5},{"t":12.45,"y":2.5},
{"t":12.558,"y":1},{"t":12.57,"y":-18.1},{"t":12.6,"y":2},{"t":12.708,"y":3},{"t":12.72,"y":-24.7},{"t":12.75,"y":0},{"t":12.79,"y":-1}],
"meanBlack": [{"t":0,"y":0},{"t":0.97,"y":-0.12},{"t":1.85,"y":0.03},{"t":2.65,"y":-0.04},{"t":3.03,"y":-1.39},{"t":3.47,"y":-5.12},{"t":3.91,"y":-10.3},{"t":4.35,"y":-15.5},{"t":4.71,"y":-18.2},{"t":5.09,"y":-17.8},{"t":5.68,"y":-15.5},{"t":6.56,"y":-11.8},{"t":7.44,"y":-8.5},{"t":8.62,"y":-5.9},{"t":9.79,"y":-3.9},{"t":11.76,"y":-2.4},{"t":13.32,"y":-1.52},{"t":15.68,"y":-0.87},{"t":18.62,"y":-0.42},{"t":21.56,"y":-0.19}],
"meanRed": [{"t":0,"y":0.1},{"t":0.38,"y":0.18},{"t":1.26,"y":-0.03},{"t":2.65,"y":-0.04},{"t":3.03,"y":-1.39},{"t":3.47,"y":-5.12},{"t":3.91,"y":-9.6},{"t":4.35,"y":-12.6},{"t":4.71,"y":-13.9},{"t":5.09,"y":-13.6},{"t":5.68,"y":-12.1},{"t":6.56,"y":-9.4},{"t":7.44,"y":-7.3},{"t":8.62,"y":-5.1},{"t":9.79,"y":-3.5},{"t":11.76,"y":-2.15},{"t":13.32,"y":-1.24},{"t":15.68,"y":-0.57},{"t":18.62,"y":-0.19},{"t":20.97,"y":-0.04}],
"txtBG": [{"t":-15.71,"y":1.03,"label":"[Glu]"},{"t":121.79,"y":27.09,"label":"20 µM SKF  (TRPC1 blocker)"},{"t":62.86,"y":39.28,"label":"Glutamate and voltage spikes"}],
"mkBG": [{"t":23.57,"y":-8.81,"label":"*"},{"t":185.5,"y":-7.09,"label":"#"},{"t":214.79,"y":-8.81,"label":"*"},{"t":245,"y":-7.5,"label":"#"}],
"letterA": [{"t":-22.86,"y":49.69,"label":"A"}],
"rttText": [{"t":495.5,"y":50.53,"label":"RTT"}],
"ellGlu": [{"t":61.43,"y":41.09}],
"ellRTT": [{"t":496.43,"y":53.13}],
"barsBG": [{"t":46.43,"t2":197.14,"y":25.63},{"t":290,"t2":491.43,"y":25.63}],
"dashBG": [{"t":202.14,"t2":287.86,"y":25.63}],
"vLabel": [{"t":-19.5,"y":-68.13,"label":"V"}],
"mLabel": [{"t":-10.36,"y":-71.05,"label":"m"}],
"bvText": [{"t":144.29,"y":-91.82,"label":"30 s"}],
"bvBar": [{"t":129.3,"t2":159.3,"y":-76.34,"y2":-76.34}],
"nhText": [{"t":34.5,"y":18.22,"label":"+1 mM NH"}],
"nhSub": [{"t":65.71,"y":16.47,"label":"4"},{"t":66.07,"y":21.7,"label":"+"}],
"umText": [{"t":222.86,"y":2.41,"label":"10 µM"}],
"rgBars": [{"t":25.93,"t2":57.86,"y":16.16,"y2":16.16},{"t":203.57,"t2":203.57,"y":8.75,"y2":-1.25}],
"rvText": [{"t":220.21,"y":-2.37,"label":"0 mV"},{"t":214.07,"y":-66.87,"label":"-60"},{"t":169.29,"y":-83.92,"label":"30 s"}],
"rvBars": [{"t":202.14,"t2":202.14,"y":0,"y2":-60},{"t":154.5,"t2":184.07,"y":-68.13,"y2":-68.13}],
"biText": [{"t":2.742,"y":-79.97,"label":"3 s"}],
"biBar": [{"t":1.241,"t2":4.241,"y":-65.53,"y2":-65.53}],
"letterB": [{"t":-0.64,"y":90.34,"label":"B"}],
"ellSp": [{"t":3.437,"y":66.37}],
"spText": [{"t":3.225,"y":59.17,"label":"Spontaneous EPSCs"}],
"beforeText": [{"t":0.036,"y":13.12,"label":"before"}],
"ebStar": [{"t":5.703,"y":2.07,"label":"*"}],
"erStar": [{"t":5.586,"y":0.89,"label":"*"}],
"erBars": [{"t":13.018,"t2":13.018,"y":-11.54,"y2":-61.54},{"t":10.018,"t2":13.018,"y":-61.54,"y2":-61.54}],
"erText": [{"t":14.144,"y":-44.38,"label":"50 pA"}],
"er3s": [{"t":11.482,"y":-78.9,"label":"3 s"}],
"ellMean": [{"t":11.03,"y":3.01}],
"meanText": [{"t":10.76,"y":2.34,"label":"mean EPSC"},{"t":23.03,"y":-12.09,"label":"10 pA"},{"t":20.76,"y":-19.02,"label":"20 ms"}],
"skfText": [{"t":19.12,"y":-3.13,"label":"SKF"}],
"mBars": [{"t":30.68,"t2":30.68,"y":-6.27,"y2":-16.31},{"t":10.59,"t2":30.68,"y":-16.31,"y2":-16.31}]
},
"layer": [
{"data":{"name":"gluBlack"},"mark":{"type":"line","color":"#bdbdbd","strokeWidth":2.6},"encoding":{"x":{"field":"t","type":"quantitative","axis":null,"scale":{"domain":[0,200],"range":[47,327],"zero":false,"nice":false}},"y":{"field":"y","type":"quantitative","axis":null,"scale":{"domain":[-5,15],"range":[206,142],"zero":false,"nice":false}}}},
{"data":{"name":"gluBlack"},"mark":{"type":"line","color":"#000000","strokeWidth":1.1},"encoding":{"x":{"field":"t","type":"quantitative","axis":null,"scale":{"domain":[0,200],"range":[47,327],"zero":false,"nice":false}},"y":{"field":"y","type":"quantitative","axis":null,"scale":{"domain":[-5,15],"range":[206,142],"zero":false,"nice":false}}}},
{"data":{"name":"gluInsetBlack"},"mark":{"type":"line","color":"#bdbdbd","strokeWidth":3},"encoding":{"x":{"field":"t","type":"quantitative","axis":null,"scale":{"domain":[0,2],"range":[336,362.26],"zero":false,"nice":false}},"y":{"field":"y","type":"quantitative","axis":null,"scale":{"domain":[-5,15],"range":[206,142],"zero":false,"nice":false}}}},
{"data":{"name":"gluInsetBlack"},"mark":{"type":"line","color":"#000000","strokeWidth":1.1},"encoding":{"x":{"field":"t","type":"quantitative","axis":null,"scale":{"domain":[0,2],"range":[336,362.26],"zero":false,"nice":false}},"y":{"field":"y","type":"quantitative","axis":null,"scale":{"domain":[-5,15],"range":[206,142],"zero":false,"nice":false}}}},
{"data":{"name":"gluInsetRed"},"mark":{"type":"line","color":"#bdbdbd","strokeWidth":3},"encoding":{"x":{"field":"t","type":"quantitative","axis":null,"scale":{"domain":[0,2],"range":[383.3,409.56],"zero":false,"nice":false}},"y":{"field":"y","type":"quantitative","axis":null,"scale":{"domain":[-5,15],"range":[206,142],"zero":false,"nice":false}}}},
{"data":{"name":"gluInsetRed"},"mark":{"type":"line","color":"#8f0000","strokeWidth":1.1},"encoding":{"x":{"field":"t","type":"quantitative","axis":null,"scale":{"domain":[0,2],"range":[383.3,409.56],"zero":false,"nice":false}},"y":{"field":"y","type":"quantitative","axis":null,"scale":{"domain":[-5,15],"range":[206,142],"zero":false,"nice":false}}}},
{"data":{"name":"vmBlack"},"mark":{"type":"line","color":"#000000","strokeWidth":1.4},"encoding":{"x":{"field":"t","type":"quantitative","axis":null,"scale":{"domain":[0,200],"range":[47,327],"zero":false,"nice":false}},"y":{"field":"y","type":"quantitative","axis":null,"scale":{"domain":[-70,20],"range":[345.67,231.67],"zero":false,"nice":false}}}},
{"data":{"name":"vmBurstBlack"},"mark":{"type":"line","color":"#8a8a8a","strokeWidth":1.3},"encoding":{"x":{"field":"t","type":"quantitative","axis":null,"scale":{"domain":[0,2],"range":[336,362.26],"zero":false,"nice":false}},"y":{"field":"y","type":"quantitative","axis":null,"scale":{"domain":[-70,20],"range":[345.67,231.67],"zero":false,"nice":false}}}},
{"data":{"name":"vmInsetBlack"},"mark":{"type":"line","color":"#000000","strokeWidth":1.2},"encoding":{"x":{"field":"t","type":"quantitative","axis":null,"scale":{"domain":[0,2],"range":[336,362.26],"zero":false,"nice":false}},"y":{"field":"y","type":"quantitative","axis":null,"scale":{"domain":[-70,20],"range":[345.67,231.67],"zero":false,"nice":false}}}},
{"data":{"name":"vmBurstRed"},"mark":{"type":"line","color":"#c47b7b","strokeWidth":1.3},"encoding":{"x":{"field":"t","type":"quantitative","axis":null,"scale":{"domain":[0,2],"range":[383.3,409.56],"zero":false,"nice":false}},"y":{"field":"y","type":"quantitative","axis":null,"scale":{"domain":[-70,20],"range":[345.67,231.67],"zero":false,"nice":false}}}},
{"data":{"name":"vmInsetRed"},"mark":{"type":"line","color":"#8f0000","strokeWidth":1.2},"encoding":{"x":{"field":"t","type":"quantitative","axis":null,"scale":{"domain":[0,2],"range":[383.3,409.56],"zero":false,"nice":false}},"y":{"field":"y","type":"quantitative","axis":null,"scale":{"domain":[-70,20],"range":[345.67,231.67],"zero":false,"nice":false}}}},
{"data":{"name":"gluRed"},"mark":{"type":"line","color":"#bdbdbd","strokeWidth":2.8},"encoding":{"x":{"field":"t","type":"quantitative","axis":null,"scale":{"domain":[0,200],"range":[453,733],"zero":false,"nice":false}},"y":{"field":"y","type":"quantitative","axis":null,"scale":{"domain":[-5,15],"range":[211,147],"zero":false,"nice":false}}}},
{"data":{"name":"gluRed"},"mark":{"type":"line","color":"#8f0000","strokeWidth":1.2},"encoding":{"x":{"field":"t","type":"quantitative","axis":null,"scale":{"domain":[0,200],"range":[453,733],"zero":false,"nice":false}},"y":{"field":"y","type":"quantitative","axis":null,"scale":{"domain":[-5,15],"range":[211,147],"zero":false,"nice":false}}}},
{"data":{"name":"vmRed"},"mark":{"type":"line","color":"#8f0000","strokeWidth":1.3},"encoding":{"x":{"field":"t","type":"quantitative","axis":null,"scale":{"domain":[0,200],"range":[453,733],"zero":false,"nice":false}},"y":{"field":"y","type":"quantitative","axis":null,"scale":{"domain":[-70,20],"range":[345.67,231.67],"zero":false,"nice":false}}}},
{"data":{"name":"epscBlack"},"mark":{"type":"line","color":"#000000","strokeWidth":1},"encoding":{"x":{"field":"t","type":"quantitative","axis":null,"scale":{"domain":[0,12],"range":[26.7,293.1],"zero":false,"nice":false}},"y":{"field":"y","type":"quantitative","axis":null,"scale":{"domain":[-60,20],"range":[569.14,488.02],"zero":false,"nice":false}}}},
{"data":{"name":"epscRed"},"mark":{"type":"line","color":"#8f0000","strokeWidth":1},"encoding":{"x":{"field":"t","type":"quantitative","axis":null,"scale":{"domain":[0,12],"range":[319.3,585.7],"zero":false,"nice":false}},"y":{"field":"y","type":"quantitative","axis":null,"scale":{"domain":[-60,20],"range":[569.14,488.02],"zero":false,"nice":false}}}},
{"data":{"name":"meanBlack"},"mark":{"type":"line","color":"#000000","strokeWidth":1.3},"encoding":{"x":{"field":"t","type":"quantitative","axis":null,"scale":{"domain":[0,30],"range":[676.7,778.7],"zero":false,"nice":false}},"y":{"field":"y","type":"quantitative","axis":null,"scale":{"domain":[-20,2],"range":[594.7,447.3],"zero":false,"nice":false}}}},
{"data":{"name":"meanRed"},"mark":{"type":"line","color":"#8f0000","strokeWidth":1.3},"encoding":{"x":{"field":"t","type":"quantitative","axis":null,"scale":{"domain":[0,30],"range":[676.7,778.7],"zero":false,"nice":false}},"y":{"field":"y","type":"quantitative","axis":null,"scale":{"domain":[-20,2],"range":[594.7,447.3],"zero":false,"nice":false}}}},
{"data":{"name":"txtBG"},"mark":{"type":"text","fontSize":15,"fontWeight":"bold"},"encoding":{"x":{"field":"t","type":"quantitative","axis":null,"scale":{"domain":[0,200],"range":[47,327],"zero":false,"nice":false}},"y":{"field":"y","type":"quantitative","axis":null,"scale":{"domain":[-5,15],"range":[206,142],"zero":false,"nice":false}},"text":{"field":"label"}}},
{"data":{"name":"mkBG"},"mark":{"type":"text","fontSize":17,"fontWeight":"bold"},"encoding":{"x":{"field":"t","type":"quantitative","axis":null,"scale":{"domain":[0,200],"range":[47,327],"zero":false,"nice":false}},"y":{"field":"y","type":"quantitative","axis":null,"scale":{"domain":[-5,15],"range":[206,142],"zero":false,"nice":false}},"text":{"field":"label"}}},
{"data":{"name":"letterA"},"mark":{"type":"text","fontSize":34,"fontWeight":"bold","fontStyle":"italic"},"encoding":{"x":{"field":"t","type":"quantitative","axis":null,"scale":{"domain":[0,200],"range":[47,327],"zero":false,"nice":false}},"y":{"field":"y","type":"quantitative","axis":null,"scale":{"domain":[-5,15],"range":[206,142],"zero":false,"nice":false}},"text":{"field":"label"}}},
{"data":{"name":"rttText"},"mark":{"type":"text","fontSize":23,"fontWeight":"normal"},"encoding":{"x":{"field":"t","type":"quantitative","axis":null,"scale":{"domain":[0,200],"range":[47,327],"zero":false,"nice":false}},"y":{"field":"y","type":"quantitative","axis":null,"scale":{"domain":[-5,15],"range":[206,142],"zero":false,"nice":false}},"text":{"field":"label"}}},
{"data":{"name":"ellGlu"},"mark":{"type":"point","shape":"M -1 0 C -1 -0.069 -0.5523 -0.125 0 -0.125 C 0.5523 -0.125 1 -0.069 1 0 C 1 0.069 0.5523 0.125 0 0.125 C -0.5523 0.125 -1 0.069 -1 0 Z","size":69696,"filled":false,"stroke":"#000000","strokeWidth":1.1,"opacity":1},"encoding":{"x":{"field":"t","type":"quantitative","axis":null,"scale":{"domain":[0,200],"range":[47,327],"zero":false,"nice":false}},"y":{"field":"y","type":"quantitative","axis":null,"scale":{"domain":[-5,15],"range":[206,142],"zero":false,"nice":false}}}},
{"data":{"name":"ellRTT"},"mark":{"type":"point","shape":"M -1 0 C -1 -0.2071 -0.5523 -0.375 0 -0.375 C 0.5523 -0.375 1 -0.2071 1 0 C 1 0.2071 0.5523 0.375 0 0.375 C -0.5523 0.375 -1 0.2071 -1 0 Z","size":6400,"filled":false,"stroke":"#000000","strokeWidth":1.1,"opacity":1},"encoding":{"x":{"field":"t","type":"quantitative","axis":null,"scale":{"domain":[0,200],"range":[47,327],"zero":false,"nice":false}},"y":{"field":"y","type":"quantitative","axis":null,"scale":{"domain":[-5,15],"range":[206,142],"zero":false,"nice":false}}}},
{"data":{"name":"barsBG"},"mark":{"type":"rule","color":"#000000","strokeWidth":3.5},"encoding":{"x":{"field":"t","type":"quantitative","axis":null,"scale":{"domain":[0,200],"range":[47,327],"zero":false,"nice":false}},"x2":{"field":"t2"},"y":{"field":"y","type":"quantitative","axis":null,"scale":{"domain":[-5,15],"range":[206,142],"zero":false,"nice":false}}}},
{"data":{"name":"dashBG"},"mark":{"type":"rule","color":"#000000","strokeWidth":3.5,"strokeDash":[9,5]},"encoding":{"x":{"field":"t","type":"quantitative","axis":null,"scale":{"domain":[0,200],"range":[47,327],"zero":false,"nice":false}},"x2":{"field":"t2"},"y":{"field":"y","type":"quantitative","axis":null,"scale":{"domain":[-5,15],"range":[206,142],"zero":false,"nice":false}}}},
{"data":{"name":"vLabel"},"mark":{"type":"text","fontSize":18,"fontWeight":"bold"},"encoding":{"x":{"field":"t","type":"quantitative","axis":null,"scale":{"domain":[0,200],"range":[47,327],"zero":false,"nice":false}},"y":{"field":"y","type":"quantitative","axis":null,"scale":{"domain":[-70,20],"range":[345.67,231.67],"zero":false,"nice":false}},"text":{"field":"label"}}},
{"data":{"name":"mLabel"},"mark":{"type":"text","fontSize":14,"fontWeight":"bold"},"encoding":{"x":{"field":"t","type":"quantitative","axis":null,"scale":{"domain":[0,200],"range":[47,327],"zero":false,"nice":false}},"y":{"field":"y","type":"quantitative","axis":null,"scale":{"domain":[-70,20],"range":[345.67,231.67],"zero":false,"nice":false}},"text":{"field":"label"}}},
{"data":{"name":"bvText"},"mark":{"type":"text","fontSize":15.5,"fontWeight":"bold"},"encoding":{"x":{"field":"t","type":"quantitative","axis":null,"scale":{"domain":[0,200],"range":[47,327],"zero":false,"nice":false}},"y":{"field":"y","type":"quantitative","axis":null,"scale":{"domain":[-70,20],"range":[345.67,231.67],"zero":false,"nice":false}},"text":{"field":"label"}}},
{"data":{"name":"bvBar"},"mark":{"type":"rule","color":"#000000","strokeWidth":3.5},"encoding":{"x":{"field":"t","type":"quantitative","axis":null,"scale":{"domain":[0,200],"range":[47,327],"zero":false,"nice":false}},"x2":{"field":"t2"},"y":{"field":"y","type":"quantitative","axis":null,"scale":{"domain":[-70,20],"range":[345.67,231.67],"zero":false,"nice":false}},"y2":{"field":"y2"}}},
{"data":{"name":"nhText"},"mark":{"type":"text","fontSize":14.5,"fontWeight":"bold"},"encoding":{"x":{"field":"t","type":"quantitative","axis":null,"scale":{"domain":[0,200],"range":[453,733],"zero":false,"nice":false}},"y":{"field":"y","type":"quantitative","axis":null,"scale":{"domain":[-5,15],"range":[211,147],"zero":false,"nice":false}},"text":{"field":"label"}}},
{"data":{"name":"nhSub"},"mark":{"type":"text","fontSize":13.5,"fontWeight":"bold"},"encoding":{"x":{"field":"t","type":"quantitative","axis":null,"scale":{"domain":[0,200],"range":[453,733],"zero":false,"nice":false}},"y":{"field":"y","type":"quantitative","axis":null,"scale":{"domain":[-5,15],"range":[211,147],"zero":false,"nice":false}},"text":{"field":"label"}}},
{"data":{"name":"umText"},"mark":{"type":"text","fontSize":15.5,"fontWeight":"bold"},"encoding":{"x":{"field":"t","type":"quantitative","axis":null,"scale":{"domain":[0,200],"range":[453,733],"zero":false,"nice":false}},"y":{"field":"y","type":"quantitative","axis":null,"scale":{"domain":[-5,15],"range":[211,147],"zero":false,"nice":false}},"text":{"field":"label"}}},
{"data":{"name":"rgBars"},"mark":{"type":"rule","color":"#000000","strokeWidth":3.2},"encoding":{"x":{"field":"t","type":"quantitative","axis":null,"scale":{"domain":[0,200],"range":[453,733],"zero":false,"nice":false}},"x2":{"field":"t2"},"y":{"field":"y","type":"quantitative","axis":null,"scale":{"domain":[-5,15],"range":[211,147],"zero":false,"nice":false}},"y2":{"field":"y2"}}},
{"data":{"name":"rvText"},"mark":{"type":"text","fontSize":15.5,"fontWeight":"bold"},"encoding":{"x":{"field":"t","type":"quantitative","axis":null,"scale":{"domain":[0,200],"range":[453,733],"zero":false,"nice":false}},"y":{"field":"y","type":"quantitative","axis":null,"scale":{"domain":[-70,20],"range":[345.67,231.67],"zero":false,"nice":false}},"text":{"field":"label"}}},
{"data":{"name":"rvBars"},"mark":{"type":"rule","color":"#000000","strokeWidth":3.5},"encoding":{"x":{"field":"t","type":"quantitative","axis":null,"scale":{"domain":[0,200],"range":[453,733],"zero":false,"nice":false}},"x2":{"field":"t2"},"y":{"field":"y","type":"quantitative","axis":null,"scale":{"domain":[-70,20],"range":[345.67,231.67],"zero":false,"nice":false}},"y2":{"field":"y2"}}},
{"data":{"name":"biText"},"mark":{"type":"text","fontSize":14,"fontWeight":"bold"},"encoding":{"x":{"field":"t","type":"quantitative","axis":null,"scale":{"domain":[0,2],"range":[336,362.26],"zero":false,"nice":false}},"y":{"field":"y","type":"quantitative","axis":null,"scale":{"domain":[-70,20],"range":[345.67,231.67],"zero":false,"nice":false}},"text":{"field":"label"}}},
{"data":{"name":"biBar"},"mark":{"type":"rule","color":"#000000","strokeWidth":3.5},"encoding":{"x":{"field":"t","type":"quantitative","axis":null,"scale":{"domain":[0,2],"range":[336,362.26],"zero":false,"nice":false}},"x2":{"field":"t2"},"y":{"field":"y","type":"quantitative","axis":null,"scale":{"domain":[-70,20],"range":[345.67,231.67],"zero":false,"nice":false}},"y2":{"field":"y2"}}},
{"data":{"name":"letterB"},"mark":{"type":"text","fontSize":37,"fontWeight":"bold","fontStyle":"italic"},"encoding":{"x":{"field":"t","type":"quantitative","axis":null,"scale":{"domain":[0,12],"range":[26.7,293.1],"zero":false,"nice":false}},"y":{"field":"y","type":"quantitative","axis":null,"scale":{"domain":[-60,20],"range":[569.14,488.02],"zero":false,"nice":false}},"text":{"field":"label"}}},
{"data":{"name":"ellSp"},"mark":{"type":"point","shape":"M -1 0 C -1 -0.1176 -0.5523 -0.2129 0 -0.2129 C 0.5523 -0.2129 1 -0.1176 1 0 C 1 0.1176 0.5523 0.2129 0 0.2129 C -0.5523 0.2129 -1 0.1176 -1 0 Z","size":40804,"filled":false,"stroke":"#000000","strokeWidth":1.1,"opacity":1},"encoding":{"x":{"field":"t","type":"quantitative","axis":null,"scale":{"domain":[0,12],"range":[26.7,293.1],"zero":false,"nice":false}},"y":{"field":"y","type":"quantitative","axis":null,"scale":{"domain":[-60,20],"range":[569.14,488.02],"zero":false,"nice":false}}}},
{"data":{"name":"spText"},"mark":{"type":"text","fontSize":15.5,"fontWeight":"bold"},"encoding":{"x":{"field":"t","type":"quantitative","axis":null,"scale":{"domain":[0,12],"range":[26.7,293.1],"zero":false,"nice":false}},"y":{"field":"y","type":"quantitative","axis":null,"scale":{"domain":[-60,20],"range":[569.14,488.02],"zero":false,"nice":false}},"text":{"field":"label"}}},
{"data":{"name":"beforeText"},"mark":{"type":"text","fontSize":16,"fontWeight":"bold"},"encoding":{"x":{"field":"t","type":"quantitative","axis":null,"scale":{"domain":[0,12],"range":[26.7,293.1],"zero":false,"nice":false}},"y":{"field":"y","type":"quantitative","axis":null,"scale":{"domain":[-60,20],"range":[569.14,488.02],"zero":false,"nice":false}},"text":{"field":"label"}}},
{"data":{"name":"ebStar"},"mark":{"type":"text","fontSize":17,"fontWeight":"bold"},"encoding":{"x":{"field":"t","type":"quantitative","axis":null,"scale":{"domain":[0,12],"range":[26.7,293.1],"zero":false,"nice":false}},"y":{"field":"y","type":"quantitative","axis":null,"scale":{"domain":[-60,20],"range":[569.14,488.02],"zero":false,"nice":false}},"text":{"field":"label"}}},
{"data":{"name":"erStar"},"mark":{"type":"text","fontSize":18,"fontWeight":"bold","color":"#8f0000"},"encoding":{"x":{"field":"t","type":"quantitative","axis":null,"scale":{"domain":[0,12],"range":[319.3,585.7],"zero":false,"nice":false}},"y":{"field":"y","type":"quantitative","axis":null,"scale":{"domain":[-60,20],"range":[569.14,488.02],"zero":false,"nice":false}},"text":{"field":"label"}}},
{"data":{"name":"erBars"},"mark":{"type":"rule","color":"#000000","strokeWidth":3.5,"strokeCap":"square"},"encoding":{"x":{"field":"t","type":"quantitative","axis":null,"scale":{"domain":[0,12],"range":[319.3,585.7],"zero":false,"nice":false}},"x2":{"field":"t2"},"y":{"field":"y","type":"quantitative","axis":null,"scale":{"domain":[-60,20],"range":[569.14,488.02],"zero":false,"nice":false}},"y2":{"field":"y2"}}},
{"data":{"name":"erText"},"mark":{"type":"text","fontSize":16,"fontWeight":"bold"},"encoding":{"x":{"field":"t","type":"quantitative","axis":null,"scale":{"domain":[0,12],"range":[319.3,585.7],"zero":false,"nice":false}},"y":{"field":"y","type":"quantitative","axis":null,"scale":{"domain":[-60,20],"range":[569.14,488.02],"zero":false,"nice":false}},"text":{"field":"label"}}},
{"data":{"name":"er3s"},"mark":{"type":"text","fontSize":15.5,"fontWeight":"bold"},"encoding":{"x":{"field":"t","type":"quantitative","axis":null,"scale":{"domain":[0,12],"range":[319.3,585.7],"zero":false,"nice":false}},"y":{"field":"y","type":"quantitative","axis":null,"scale":{"domain":[-60,20],"range":[569.14,488.02],"zero":false,"nice":false}},"text":{"field":"label"}}},
{"data":{"name":"ellMean"},"mark":{"type":"point","shape":"M -1 0 C -1 -0.097 -0.5523 -0.1756 0 -0.1756 C 0.5523 -0.1756 1 -0.097 1 0 C 1 0.097 0.5523 0.1756 0 0.1756 C -0.5523 0.1756 -1 0.097 -1 0 Z","size":16129,"filled":false,"stroke":"#000000","strokeWidth":1.1,"opacity":1},"encoding":{"x":{"field":"t","type":"quantitative","axis":null,"scale":{"domain":[0,30],"range":[676.7,778.7],"zero":false,"nice":false}},"y":{"field":"y","type":"quantitative","axis":null,"scale":{"domain":[-20,2],"range":[594.7,447.3],"zero":false,"nice":false}}}},
{"data":{"name":"meanText"},"mark":{"type":"text","fontSize":15.5,"fontWeight":"bold"},"encoding":{"x":{"field":"t","type":"quantitative","axis":null,"scale":{"domain":[0,30],"range":[676.7,778.7],"zero":false,"nice":false}},"y":{"field":"y","type":"quantitative","axis":null,"scale":{"domain":[-20,2],"range":[594.7,447.3],"zero":false,"nice":false}},"text":{"field":"label"}}},
{"data":{"name":"skfText"},"mark":{"type":"text","fontSize":12.5,"fontWeight":"bold","color":"#8f0000"},"encoding":{"x":{"field":"t","type":"quantitative","axis":null,"scale":{"domain":[0,30],"range":[676.7,778.7],"zero":false,"nice":false}},"y":{"field":"y","type":"quantitative","axis":null,"scale":{"domain":[-20,2],"range":[594.7,447.3],"zero":false,"nice":false}},"text":{"field":"label"}}},
{"data":{"name":"mBars"},"mark":{"type":"rule","color":"#000000","strokeWidth":3.5,"strokeCap":"square"},"encoding":{"x":{"field":"t","type":"quantitative","axis":null,"scale":{"domain":[0,30],"range":[676.7,778.7],"zero":false,"nice":false}},"x2":{"field":"t2"},"y":{"field":"y","type":"quantitative","axis":null,"scale":{"domain":[-20,2],"range":[594.7,447.3],"zero":false,"nice":false}},"y2":{"field":"y2"}}}
]
}
